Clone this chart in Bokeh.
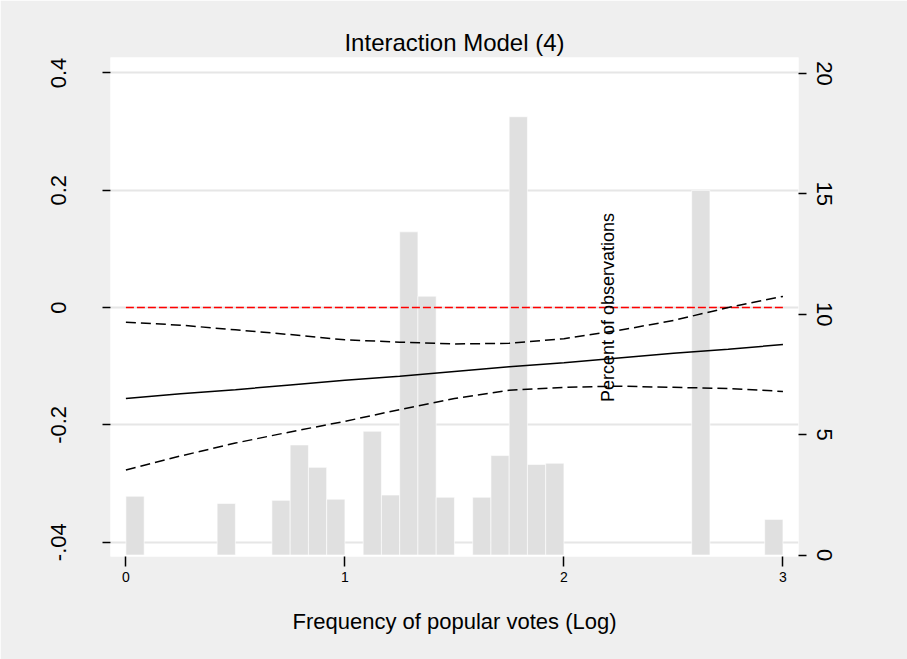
from math import pi
from bokeh.plotting import figure
from bokeh.models import Range1d, LinearAxis, FixedTicker, Label, ColumnDataSource
from bokeh.embed import file_html
from bokeh.resources import INLINE

# ---------------- data ----------------
title_text = "Interaction Model (4)"
x_title = "Frequency of popular votes (Log)"
pct_title = "Percent of observations"

# histogram (percent of observations), bins of width 1/12 on log scale
bin_width = 1.0 / 12.0
bin_index = [0, 5, 8, 9, 10, 11, 13, 14, 15, 16, 17, 19, 20, 21, 22, 23, 31, 35]
bin_percent = [2.44, 2.14, 2.27, 4.57, 3.64, 2.32, 5.14, 2.49, 13.42, 10.75,
               2.40, 2.40, 4.13, 18.20, 3.76, 3.81, 15.14, 1.48]

# marginal effect and 95% confidence interval
me_x = [0.0, 0.25, 0.5, 0.75, 1.0, 1.25, 1.5, 1.75, 2.0, 2.25, 2.5, 2.75, 3.0]
me_effect = [-0.155, -0.147, -0.140, -0.132, -0.124, -0.117, -0.109,
             -0.101, -0.094, -0.086, -0.078, -0.071, -0.063]
me_upper = [-0.025, -0.030, -0.038, -0.046, -0.055, -0.059, -0.062,
            -0.061, -0.053, -0.039, -0.022, 0.000, 0.019]
me_lower = [-0.277, -0.253, -0.231, -0.212, -0.194, -0.174, -0.155,
            -0.141, -0.136, -0.134, -0.136, -0.138, -0.143]

zero_x = [0.0, 3.0]
zero_y = [0.0, 0.0]

x_ticks = [0, 1, 2, 3]
y_ticks = [-0.4, -0.2, 0.0, 0.2, 0.4]
y_tick_labels = ["-.04", "-0.2", "0", "0.2", "0.4"]
pct_ticks = [0, 5, 10, 15, 20]

# ---------------- figure ----------------
FONT = "Liberation Sans"
BG = "#EFEFEF"

p = figure(frame_width=688, frame_height=499,
           x_range=Range1d(-0.0703, 3.071), y_range=Range1d(-0.4244, 0.4263),
           output_backend="svg", toolbar_location=None,
           min_border_left=110, min_border_right=109,
           min_border_top=57, min_border_bottom=103)
p.extra_y_ranges = {"pct": Range1d(-0.061, 20.66)}

p.background_fill_color = "white"
p.border_fill_color = BG
p.outline_line_color = None

p.title.text = title_text
p.title.align = "center"
p.title.text_font = FONT
p.title.text_font_size = "24px"
p.title.text_font_style = "normal"
p.title.text_color = "black"
p.title.standoff = 3

# grid
p.xgrid.grid_line_color = None
p.ygrid.ticker = FixedTicker(ticks=y_ticks)
p.ygrid.grid_line_color = "#E6E6E6"
p.ygrid.grid_line_width = 2


def style_axis(ax, tick_out, font_size, standoff):
    ax.axis_line_color = None
    ax.major_tick_out = tick_out
    ax.major_tick_in = 0
    ax.major_tick_line_width = 1.5
    ax.major_tick_line_color = "black"
    ax.minor_tick_line_color = None
    ax.major_label_text_font = FONT
    ax.major_label_text_font_size = font_size
    ax.major_label_text_color = "black"
    ax.major_label_standoff = standoff


# x axis
xa = p.xaxis[0]
xa.ticker = FixedTicker(ticks=x_ticks)
style_axis(xa, 10, "14px", 5)
xa.axis_label = x_title
xa.axis_label_text_font = FONT
xa.axis_label_text_font_size = "22px"
xa.axis_label_text_font_style = "normal"
xa.axis_label_text_color = "black"
xa.axis_label_standoff = 24

# left axis
ya = p.yaxis[0]
ya.ticker = FixedTicker(ticks=y_ticks)
ya.major_label_overrides = {t: s for t, s in zip(y_ticks, y_tick_labels)}
style_axis(ya, 8, "22px", 36)
ya.major_label_orientation = "vertical"

# right axis
ra = LinearAxis(y_range_name="pct", ticker=FixedTicker(ticks=pct_ticks))
style_axis(ra, 8, "22px", 10)
ra.major_label_orientation = "vertical"
p.add_layout(ra, "right")

# histogram bars
hist = ColumnDataSource(dict(
    left=[i * bin_width for i in bin_index],
    right=[(i + 1) * bin_width for i in bin_index],
    top=bin_percent,
))
p.quad(left="left", right="right", bottom=0, top="top", source=hist,
       y_range_name="pct", fill_color="#E0E0E0", line_color="white",
       line_width=0.6)

# lines
p.line(zero_x, zero_y, line_color="#FF0000", line_width=1.5, line_dash="8 3")
p.line(me_x, me_upper, line_color="black", line_width=1.5, line_dash="10 5")
p.line(me_x, me_lower, line_color="black", line_width=1.5, line_dash="10 5")
p.line(me_x, me_effect, line_color="black", line_width=1.5)

# right-axis title drawn inside the plot as in the original
p.add_layout(Label(x=2.2, y=0.0, text=pct_title, angle=pi / 2,
                   text_align="center", text_baseline="middle",
                   text_font=FONT, text_font_size="18px", text_color="black"))

open("out.html", "w").write(file_html(p, INLINE))
